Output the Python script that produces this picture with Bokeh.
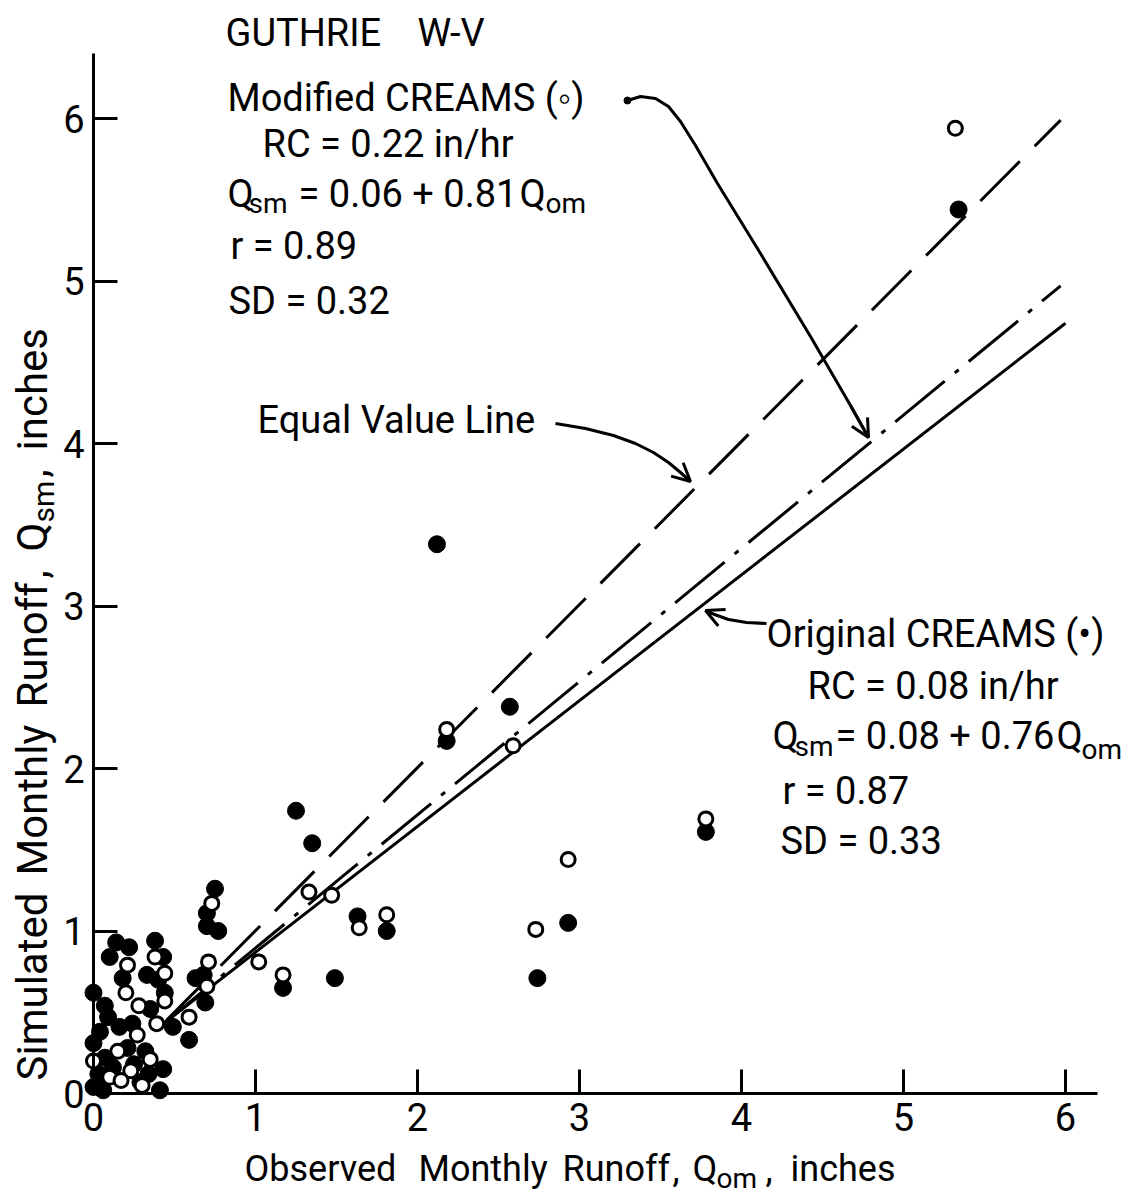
import math
from bokeh.plotting import figure
from bokeh.models import Range1d, Label, Arrow, OpenHead
from bokeh.embed import file_html
from bokeh.resources import INLINE

# ---------------- data ----------------
# Original CREAMS (filled circles): observed vs simulated monthly runoff, inches
orig_obs = [5.34, 2.12, 2.57, 2.18, 1.25, 1.35, 3.78, 2.93, 2.74, 1.63, 1.81, 1.49,
            1.17, 0.75, 0.70, 0.70, 0.77, 0.14, 0.22, 0.10, 0.18, 0.38, 0.43, 0.33,
            0.40, 0.44, 0.00, 0.35, 0.07, 0.09, 0.24, 0.16, 0.04, 0.00, 0.49, 0.59,
            0.63, 0.68, 0.69, 0.07, 0.03, 0.12, 0.21, 0.25, 0.32, 0.34, 0.43, 0.41,
            0.00, 0.06, 0.29]
orig_sim = [5.44, 3.38, 2.38, 2.17, 1.74, 1.54, 1.61, 1.05, 0.71, 1.09, 1.00, 0.71,
            0.65, 1.26, 1.11, 1.03, 1.00, 0.93, 0.90, 0.84, 0.71, 0.94, 0.84, 0.73,
            0.70, 0.62, 0.62, 0.52, 0.54, 0.47, 0.43, 0.41, 0.38, 0.31, 0.41, 0.33,
            0.71, 0.73, 0.56, 0.22, 0.12, 0.16, 0.28, 0.18, 0.26, 0.12, 0.15, 0.02,
            0.04, 0.02, 0.07]
# Modified CREAMS (open circles)
mod_obs = [5.32, 2.18, 2.59, 1.33, 1.47, 3.78, 2.93, 2.73, 1.64, 1.81, 1.17, 1.02,
           0.73, 0.21, 0.20, 0.38, 0.44, 0.44, 0.28, 0.39, 0.27, 0.59, 0.71, 0.70,
           0.15, 0.23, 0.35, 0.10, 0.30, 0.00, 0.17]
mod_sim = [5.94, 2.24, 2.14, 1.24, 1.22, 1.69, 1.44, 1.01, 1.02, 1.10, 0.73, 0.81,
           1.17, 0.79, 0.62, 0.84, 0.74, 0.57, 0.54, 0.43, 0.36, 0.47, 0.81, 0.66,
           0.26, 0.14, 0.21, 0.10, 0.05, 0.20, 0.08]

# lines as drawn in the figure (end points)
equal_x = [0.45, 5.97]
equal_y = [0.45, 5.99]
mod_line_x = [0.42, 5.97]
mod_line_y = [0.42, 4.97]
orig_line_x = [0.42, 6.00]
orig_line_y = [0.42, 4.74]

x_ticks = [0, 1, 2, 3, 4, 5, 6]
y_ticks = [0, 1, 2, 3, 4, 5, 6]

# ---------------- layout ----------------
FONT = "Roboto"
W, H = 1124, 1198
X0, Y0 = 93, 1093      # page pixel of the data origin
SX, SY = 162.0, 162.5  # pixels per inch of runoff
BASE = 15              # correction between wanted baseline and label anchor


def X(px):
    """page pixel x -> data x"""
    return (px - X0) / SX


def Y(py):
    """page pixel y -> data y"""
    return (Y0 - py) / SY


p = figure(width=W, height=H,
           x_range=Range1d(X(0), X(W)), y_range=Range1d(Y(H), Y(0)),
           output_backend="svg", toolbar_location=None)
p.min_border = 0
p.min_border_left = p.min_border_right = p.min_border_top = p.min_border_bottom = 0
p.outline_line_color = None
p.xgrid.visible = False
p.ygrid.visible = False
p.background_fill_color = "white"
p.border_fill_color = "white"

for ax in (p.xaxis[0], p.yaxis[0]):
    ax.fixed_location = 0
    ax.axis_line_width = 3
    ax.axis_line_color = "black"
    ax.major_tick_line_width = 3
    ax.major_tick_line_color = "black"
    ax.major_tick_in = 24
    ax.major_tick_out = 0
    ax.minor_tick_line_color = None
    ax.major_label_text_font = FONT
    ax.major_label_text_font_size = "38px"
    ax.major_label_text_color = "black"
p.xaxis.bounds = (0, 6.2)
p.yaxis.bounds = (0, 6.4)
p.xaxis.ticker = x_ticks
p.yaxis.ticker = y_ticks
p.xaxis.major_label_standoff = 9
p.yaxis.major_label_standoff = 9

# ---------------- lines ----------------
p.line(equal_x, equal_y, line_color="black", line_width=3, line_dash="56 21")
p.line(mod_line_x, mod_line_y, line_color="black", line_width=3, line_dash="64 13 5 13")
p.line(orig_line_x, orig_line_y, line_color="black", line_width=3)

# ---------------- points ----------------
p.scatter(orig_obs, orig_sim, marker="circle", size=17, fill_color="black", line_color="black")
p.scatter(mod_obs, mod_sim, marker="circle", size=14, fill_color="white",
          line_color="black", line_width=3)

# ---------------- arrows ----------------
mod_arrow = [(627, 100), (640, 96), (655, 98), (668, 106), (680, 121), (695, 145),
             (717, 183), (760, 253), (810, 336), (850, 405), (868, 437)]
eq_arrow = [(555, 423), (585, 428), (613, 435), (635, 443), (653, 452), (668, 462),
            (680, 472), (690, 481)]
orig_arrow = [(766, 623), (746, 622), (728, 619), (714, 614), (705, 610)]
for pts in (mod_arrow, eq_arrow, orig_arrow):
    p.line([X(a) for a, b in pts], [Y(b) for a, b in pts], line_color="black", line_width=3)
    (a0, b0), (a1, b1) = pts[-2], pts[-1]
    p.add_layout(Arrow(end=OpenHead(size=18, line_width=3, line_color="black"),
                       x_start=X(a0), y_start=Y(b0), x_end=X(a1), y_end=Y(b1),
                       line_width=3, line_color="black"))
p.scatter([X(627)], [Y(100)], marker="circle", size=7, fill_color="black", line_color="black")


# ---------------- texts ----------------
def txt(s, px, py, size=38):
    """horizontal text; (px, py) = left end of the baseline in page pixels"""
    p.add_layout(Label(x=X(px), y=Y(py - BASE), text=s, text_font=FONT,
                       text_font_size=f"{size}px", text_color="black",
                       text_align="left", text_baseline="alphabetic"))


def vtxt(s, px, py, size=42):
    """text reading upward; px = baseline x, py = lower end"""
    p.add_layout(Label(x=X(px - BASE), y=Y(py), text=s, text_font=FONT,
                       text_font_size=f"{size}px", text_color="black",
                       text_align="left", text_baseline="alphabetic",
                       angle=math.pi / 2))


txt("GUTHRIE", 225, 47)
txt("W-V", 417, 47)
txt("Modified CREAMS (◦)", 227, 112)
txt("RC = 0.22 in/hr", 262, 158)
txt("Q", 227, 208)
txt("sm", 248, 218, 28)
txt("= 0.06 + 0.81", 298, 208)
txt("Q", 519, 208)
txt("om", 545, 218, 28)
txt("r = 0.89", 230, 260)
txt("SD = 0.32", 228, 315)

txt("Equal Value Line", 257, 434)

txt("Original CREAMS (•)", 766, 648)
txt("RC = 0.08 in/hr", 807, 700)
txt("Q", 772, 750)
txt("sm", 794, 761, 28)
txt("= 0.08 + 0.76", 835, 750)
txt("Q", 1056, 750)
txt("om", 1081, 764, 28)
txt("r = 0.87", 782, 805)
txt("SD = 0.33", 780, 855)

# x-axis title (with subscript)
for word, px in (("Observed", 244), ("Monthly", 418), ("Runoff", 562), (",", 672),
                 ("Q", 692), (",", 765), ("inches", 790)):
    txt(word, px, 1183, 36)
txt("om", 716, 1193, 28)

# y-axis title (rotated, reading upward)
for word, py in (("Simulated", 1080), ("Monthly", 875), ("Runoff", 707), (",", 578),
                 ("Q", 551), (",", 477), ("inches", 450)):
    vtxt(word, 47, py)
vtxt("sm", 58, 522, 30)

open("out.html", "w").write(file_html(p, INLINE))
